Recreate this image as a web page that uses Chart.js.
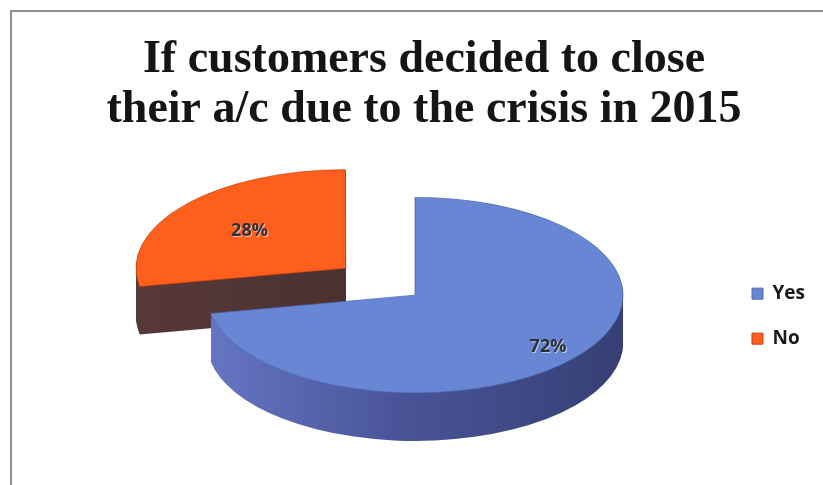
<!DOCTYPE html>
<html>
<head>
<meta charset="utf-8">
<script src="https://cdn.jsdelivr.net/npm/chart.js@4.4.1/dist/chart.umd.min.js"></script>
<style>
  html, body { margin: 0; padding: 0; background: #ffffff; }
  #wrap { position: relative; width: 823px; height: 485px; overflow: hidden; }
  #frame {
    position: absolute; left: 10px; top: 10px; width: 830px; height: 490px;
    border-left: 2px solid #8e8e8e; border-top: 2px solid #8e8e8e; box-sizing: border-box;
  }
  canvas { position: absolute; left: 0; top: 0; }
</style>
</head>
<body>
<div id="wrap">
  <div id="frame"></div>
  <canvas id="chart" width="823" height="485"></canvas>
</div>
<script>
// Survey answers
const categories = ['Yes', 'No'];
const shares = [72, 28];
const titleLines = ['If customers decided to close', 'their a/c due to the crisis in 2015'];

// Colours: top face, rim and legend swatch border
const topColors = ['#6886d4', '#ff5f1c'];
const edgeColors = ['#4d68b0', '#c8420f'];

// 3D look of the pie
const TILT = 0.47;    // vertical squash of the disc
const DEPTH = 48;     // thickness of the disc in px
const LIFT = 21;      // top face sits this far above the chart-area centre
const LABEL_POS = [0.83, 0.6]; // label distance along each slice's bisector (fraction of radius)

function sideFill(ctx, i, cx, r) {
  const g = ctx.createLinearGradient(cx - r, 0, cx + r, 0);
  if (i === 0) {
    g.addColorStop(0, '#6676c4');
    g.addColorStop(0.45, '#4a5599');
    g.addColorStop(1, '#353f74');
  } else {
    g.addColorStop(0, '#573838');
    g.addColorStop(1, '#402a2a');
  }
  return g;
}

const pie3d = {
  id: 'pie3d',
  afterLayout(chart) {
    // the legend column is kept narrow for layout; let its text run to the canvas edge
    const lg = chart.legend;
    if (lg) { lg.right = chart.width; lg.width = lg.right - lg.left; }
  },
  beforeDatasetDraw(chart, args) {
    const ctx = chart.ctx;
    const arcs = args.meta.data;
    const cx = arcs[0].x, cy = arcs[0].y - LIFT;
    const r = arcs[0].outerRadius;
    const squash = (dy) => {
      ctx.translate(0, dy);
      ctx.translate(cx, cy);
      ctx.scale(1, TILT);
      ctx.translate(-cx, -cy - LIFT);
    };
    // slices lying further back are painted first
    const order = arcs.map((a, i) => i).sort((a, b) => (arcs[b].options.offset || 0) - (arcs[a].options.offset || 0));
    for (const i of order) {
      const arc = arcs[i];
      const own = arc.options;
      arc.options = Object.assign({}, own, { backgroundColor: sideFill(ctx, i, cx, r), borderWidth: 0 });
      for (let d = DEPTH; d > 0; d--) {
        ctx.save(); squash(d); arc.draw(ctx); ctx.restore();
      }
      arc.options = own;
      ctx.save(); squash(0); arc.draw(ctx); ctx.restore();
    }
    return false;
  },
  afterDraw(chart) {
    const ctx = chart.ctx;
    const arcs = chart.getDatasetMeta(0).data;
    const cx = arcs[0].x, cy = arcs[0].y - LIFT;
    ctx.save();
    ctx.font = 'bold 18px "Open Sans"';
    ctx.textAlign = 'center';
    ctx.textBaseline = 'middle';
    arcs.forEach((arc, i) => {
      const mid = (arc.startAngle + arc.endAngle) / 2;
      const dist = (arc.options.offset || 0) / 4 + LABEL_POS[i] * arc.outerRadius;
      const x = cx + Math.cos(mid) * dist;
      const y = cy + Math.sin(mid) * dist * TILT;
      ctx.fillStyle = 'rgba(255,255,255,0.55)';
      ctx.fillText(shares[i] + '%', x + 1, y + 1);
      ctx.fillStyle = '#2e3038';
      ctx.fillText(shares[i] + '%', x, y);
    });
    ctx.restore();
  }
};

new Chart(document.getElementById('chart'), {
  type: 'pie',
  data: {
    labels: categories,
    datasets: [{
      data: shares,
      backgroundColor: topColors,
      borderColor: edgeColors,
      borderWidth: 1,
      offset: [0, 360]
    }]
  },
  options: {
    responsive: false,
    animation: false,
    events: [],
    radius: 208,
    cutout: '0%',
    layout: { padding: { left: 104, right: 79, top: 0, bottom: 0 } },
    plugins: {
      tooltip: { enabled: false },
      title: {
        display: true,
        text: titleLines,
        color: '#151515',
        font: { family: '"Liberation Serif", "Times New Roman", serif', size: 46, weight: 'bold', lineHeight: 1.09 },
        padding: { top: 35, bottom: 12 }
      },
      legend: {
        position: 'right',
        align: 'center',
        fullSize: false,
        maxWidth: 18,
        labels: {
          boxWidth: 11,
          boxHeight: 11,
          padding: 26,
          color: '#1a1a1a',
          font: { family: '"Open Sans", sans-serif', size: 19, weight: 'bold' }
        }
      }
    }
  },
  plugins: [pie3d]
});
</script>
</body>
</html>
